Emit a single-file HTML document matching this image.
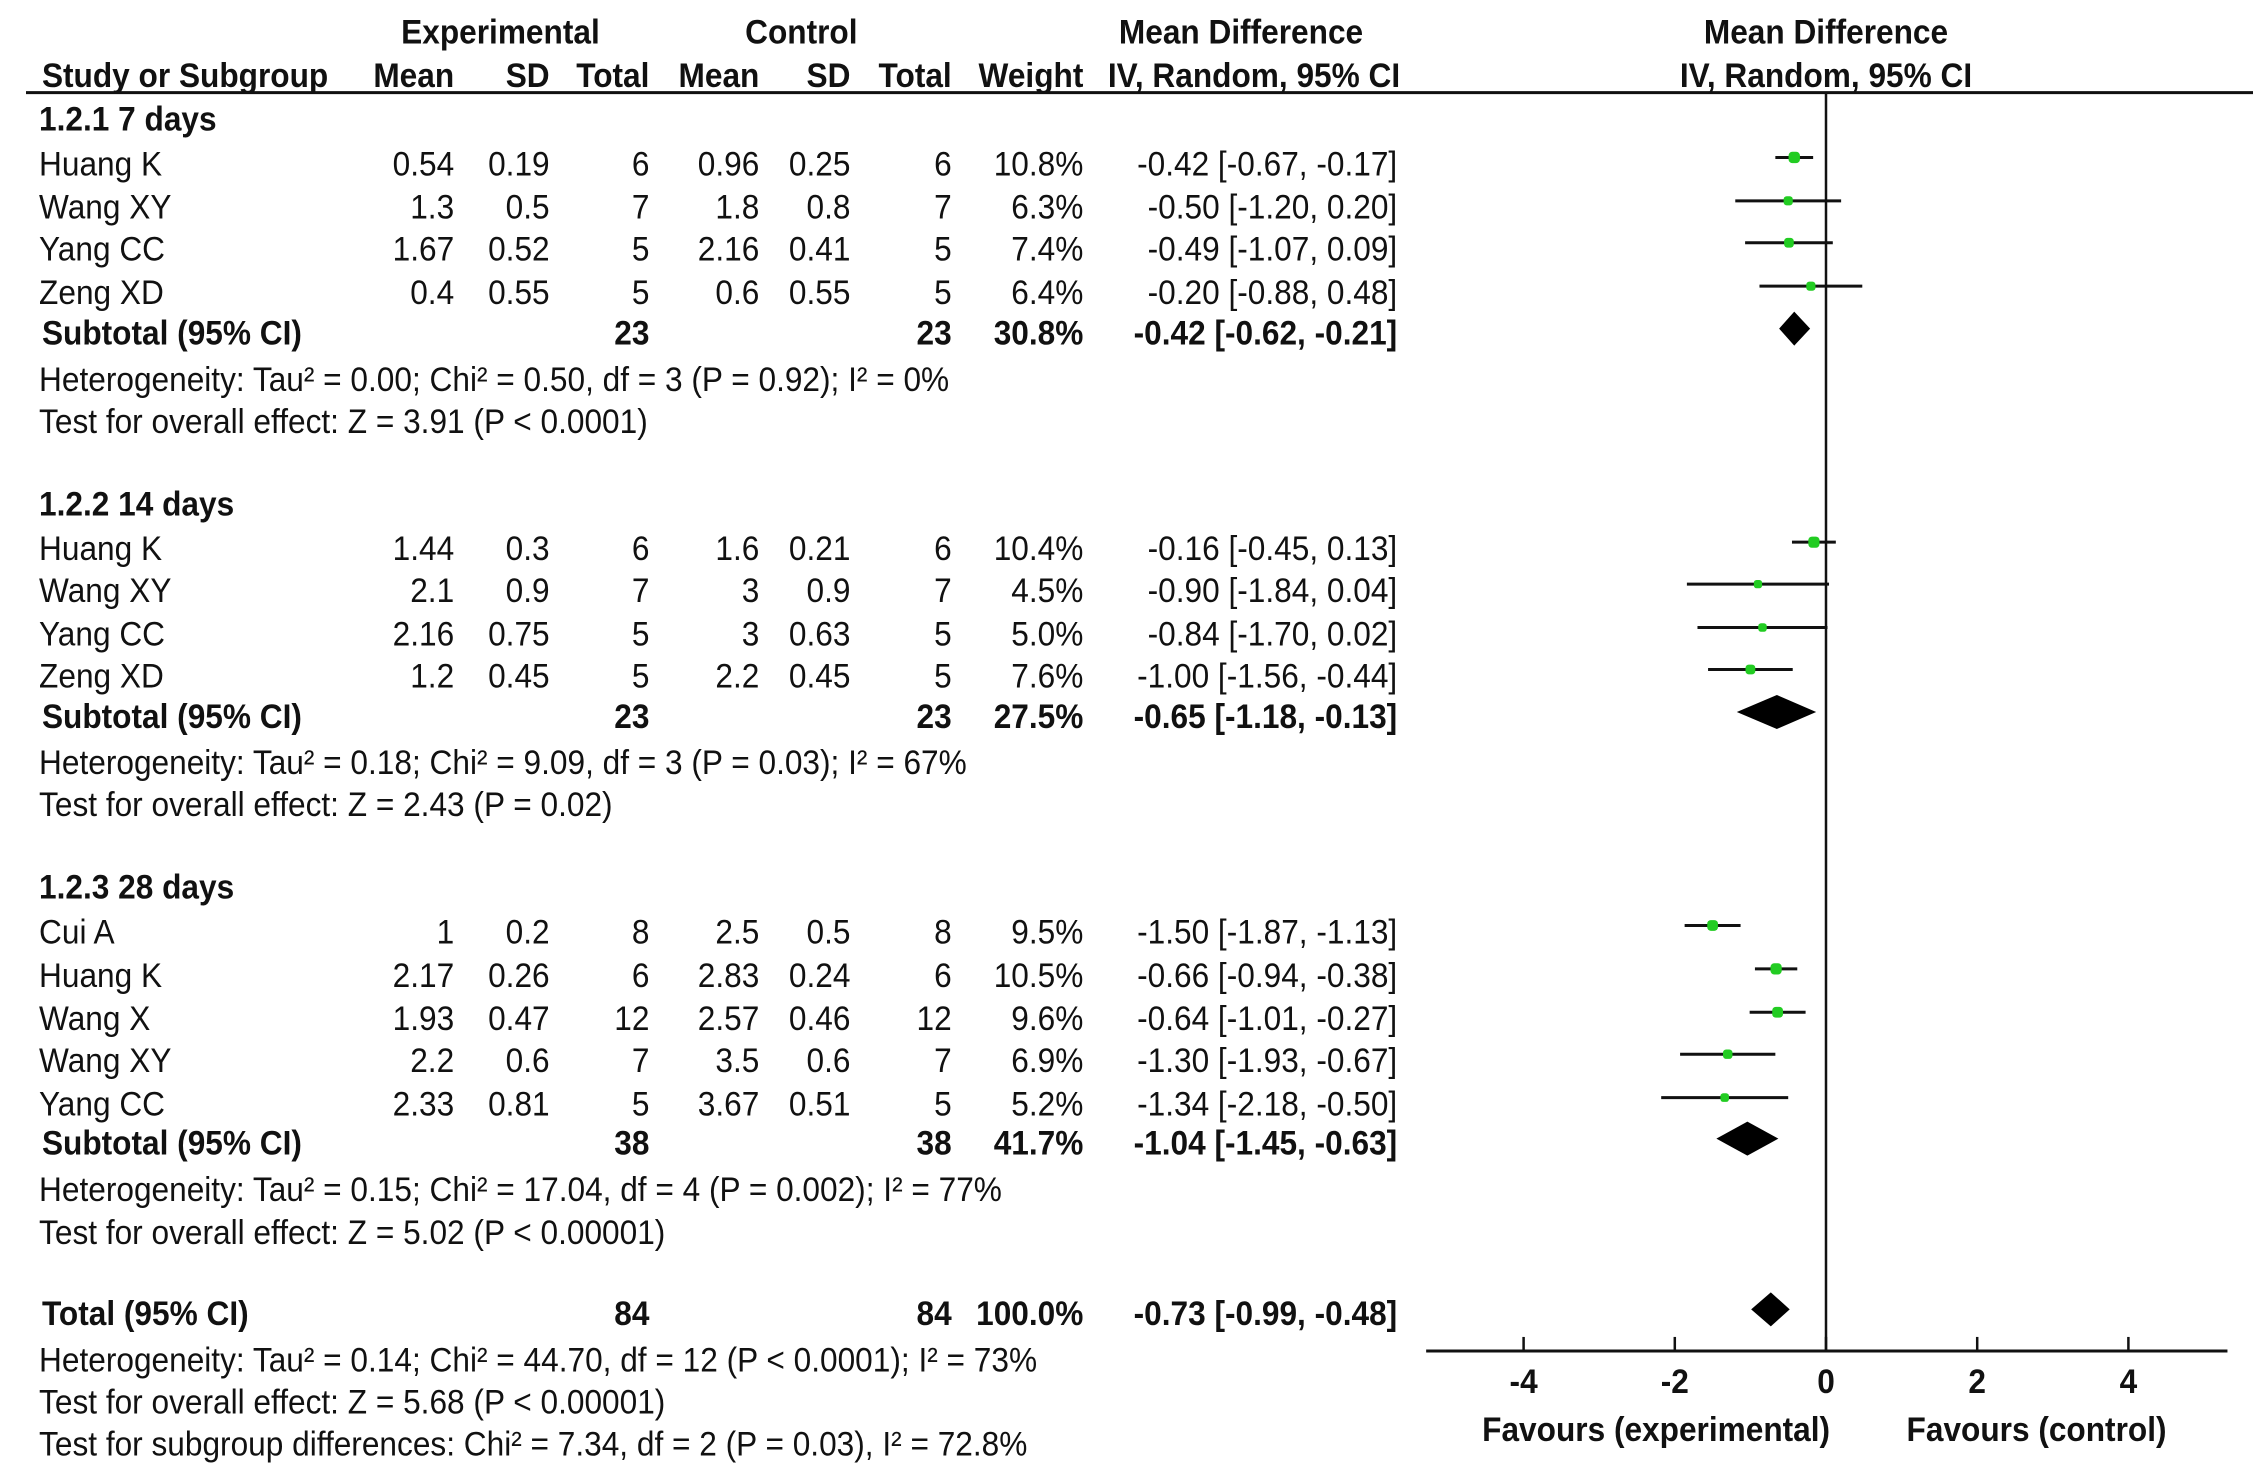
<!DOCTYPE html>
<html><head><meta charset="utf-8"><style>
html,body{margin:0;padding:0;background:#fff;}
svg{display:block;}
text{font-family:"Liberation Sans",Arial,sans-serif;font-size:34px;fill:#111;}
.b{font-weight:bold;}
</style></head><body>
<svg id="c" width="2268" height="1477" viewBox="0 0 2268 1477"></svg>
<script>
const S=1.4464;
const studies=["Huang K","Wang XY","Yang CC","Zeng XD","Huang K","Wang XY","Yang CC","Zeng XD","Cui A","Huang K","Wang X","Wang XY","Yang CC"];
const studyY=[113,143,172,202,379,408,438,467,644,674,704,733,763];
const expMean=["0.54","1.3","1.67","0.4","1.44","2.1","2.16","1.2","1","2.17","1.93","2.2","2.33"];
const expSD=["0.19","0.5","0.52","0.55","0.3","0.9","0.75","0.45","0.2","0.26","0.47","0.6","0.81"];
const expN=["6","7","5","5","6","7","5","5","8","6","12","7","5"];
const ctlMean=["0.96","1.8","2.16","0.6","1.6","3","3","2.2","2.5","2.83","2.57","3.5","3.67"];
const ctlSD=["0.25","0.8","0.41","0.55","0.21","0.9","0.63","0.45","0.5","0.24","0.46","0.6","0.51"];
const ctlN=["6","7","5","5","6","7","5","5","8","6","12","7","5"];
const weights=["10.8%","6.3%","7.4%","6.4%","10.4%","4.5%","5.0%","7.6%","9.5%","10.5%","9.6%","6.9%","5.2%"];
const md=[-0.42,-0.50,-0.49,-0.20,-0.16,-0.90,-0.84,-1.00,-1.50,-0.66,-0.64,-1.30,-1.34];
const lo=[-0.67,-1.20,-1.07,-0.88,-0.45,-1.84,-1.70,-1.56,-1.87,-0.94,-1.01,-1.93,-2.18];
const hi=[-0.17,0.20,0.09,0.48,0.13,0.04,0.02,-0.44,-1.13,-0.38,-0.27,-0.67,-0.50];
const subLabels=["Subtotal (95% CI)","Subtotal (95% CI)","Subtotal (95% CI)","Total (95% CI)"];
const subY=[230,495,790,908];
const subN=["23","23","38","84"];
const subW=["30.8%","27.5%","41.7%","100.0%"];
const subMd=[-0.42,-0.65,-1.04,-0.73];
const subLo=[-0.62,-1.18,-1.45,-0.99];
const subHi=[-0.21,-0.13,-0.63,-0.48];
const ticks=[-4,-2,0,2,4];
const groupHeads=[["1.2.1 7 days",82],["1.2.2 14 days",348],["1.2.3 28 days",613]];
const notes=[
["Heterogeneity: Tau\u00b2 = 0.00; Chi\u00b2 = 0.50, df = 3 (P = 0.92); I\u00b2 = 0%",262],
["Test for overall effect: Z = 3.91 (P < 0.0001)",291],
["Heterogeneity: Tau\u00b2 = 0.18; Chi\u00b2 = 9.09, df = 3 (P = 0.03); I\u00b2 = 67%",527],
["Test for overall effect: Z = 2.43 (P = 0.02)",556],
["Heterogeneity: Tau\u00b2 = 0.15; Chi\u00b2 = 17.04, df = 4 (P = 0.002); I\u00b2 = 77%",822],
["Test for overall effect: Z = 5.02 (P < 0.00001)",852],
["Heterogeneity: Tau\u00b2 = 0.14; Chi\u00b2 = 44.70, df = 12 (P < 0.0001); I\u00b2 = 73%",940],
["Test for overall effect: Z = 5.68 (P < 0.00001)",969],
["Test for subgroup differences: Chi\u00b2 = 7.34, df = 2 (P = 0.03), I\u00b2 = 72.8%",998]];
const svg=document.getElementById('c');
const NS="http://www.w3.org/2000/svg";
const X0=1826, UNIT=75.6;
function xs(v){return X0+v*UNIT;}
function ys(d){return d*S;}
const SX=0.93;
function txt(s,x,y,anchor,bold,name){
  const t=document.createElementNS(NS,'text');
  t.setAttribute('x',x/SX);t.setAttribute('y',y);
  t.setAttribute('transform','scale('+SX+',1)');
  t.setAttribute('dominant-baseline','central');
  t.setAttribute('text-anchor',anchor||'start');
  if(bold)t.setAttribute('class','b');
  t.textContent=s;
  
  
  svg.appendChild(t);return t;
}
function ln(x1,y1,x2,y2,w,name){
  const l=document.createElementNS(NS,'line');
  l.setAttribute('x1',x1);l.setAttribute('y1',y1);l.setAttribute('x2',x2);l.setAttribute('y2',y2);
  l.setAttribute('stroke','#111');l.setAttribute('stroke-width',w);
  
  
  svg.appendChild(l);return l;
}
txt("Experimental",ys(346),ys(22),'middle',true,'header-experimental');
txt("Control",ys(554),ys(22),'middle',true,'header-control');
txt("Mean Difference",ys(858),ys(22),'middle',true,'header-mean-difference');
txt("Mean Difference",X0,ys(22),'middle',true,'header-plot-mean-difference');
const hy=ys(52);
txt("Study or Subgroup",ys(29),hy,'start',true,'header-study');
txt("Mean",ys(314),hy,'end',true,'header-exp-mean');
txt("SD",ys(380),hy,'end',true,'header-exp-sd');
txt("Total",ys(449),hy,'end',true,'header-exp-total');
txt("Mean",ys(525),hy,'end',true,'header-ctl-mean');
txt("SD",ys(588),hy,'end',true,'header-ctl-sd');
txt("Total",ys(658),hy,'end',true,'header-ctl-total');
txt("Weight",ys(749),hy,'end',true,'header-weight');
txt("IV, Random, 95% CI",ys(867),hy,'middle',true,'header-ci');
txt("IV, Random, 95% CI",X0,hy,'middle',true,'header-plot-ci');
ln(26,ys(64),2253,ys(64),3,'header-rule');
groupHeads.forEach(g=>txt(g[0],ys(27),ys(g[1]),'start',true,'subgroup-heading'));
notes.forEach(n=>txt(n[0],ys(27),ys(n[1]),'start',false,'stats-note'));
function fmt(v){return v.toFixed(2);}
const axY=ys(934);
ln(X0,ys(64),X0,axY,2.5,'null-line');
ln(ys(986),axY,ys(1540),axY,3,'x-axis');
ticks.forEach(t=>{
  ln(xs(t),axY-14,xs(t),axY,2.5,'x-tick');
  txt(String(t),xs(t),ys(955),'middle',true,'x-tick-label');
});
txt("Favours (experimental)",ys(1145),ys(988),'middle',true,'favours-experimental-label');
txt("Favours (control)",ys(1408),ys(988),'middle',true,'favours-control-label');
studies.forEach((s,i)=>{
  const y=ys(studyY[i]);
  txt(s,ys(27),y,'start',false,'study-name');
  txt(expMean[i],ys(314),y,'end',false,'exp-mean');
  txt(expSD[i],ys(380),y,'end',false,'exp-sd');
  txt(expN[i],ys(449),y,'end',false,'exp-total');
  txt(ctlMean[i],ys(525),y,'end',false,'ctl-mean');
  txt(ctlSD[i],ys(588),y,'end',false,'ctl-sd');
  txt(ctlN[i],ys(658),y,'end',false,'ctl-total');
  txt(weights[i],ys(749),y,'end',false,'weight');
  txt(fmt(md[i])+" ["+fmt(lo[i])+", "+fmt(hi[i])+"]",ys(966),y,'end',false,'effect-ci');
  const my=y-6;
  ln(xs(lo[i]),my,xs(hi[i]),my,3,'ci-line');
  const r=document.createElementNS(NS,'rect');
  const sz=6+parseFloat(weights[i])*0.5;
  r.setAttribute('x',xs(md[i])-sz/2);r.setAttribute('y',my-sz/2);
  r.setAttribute('width',sz);r.setAttribute('height',sz);r.setAttribute('rx',sz/3);
  r.setAttribute('fill','#22cc22');
  
  
  svg.appendChild(r);
});
subLabels.forEach((s,i)=>{
  const y=ys(subY[i]);
  txt(s,ys(29),y,'start',true,'subtotal-label');
  txt(subN[i],ys(449),y,'end',true,'subtotal-exp-total');
  txt(subN[i],ys(658),y,'end',true,'subtotal-ctl-total');
  txt(subW[i],ys(749),y,'end',true,'subtotal-weight');
  txt(fmt(subMd[i])+" ["+fmt(subLo[i])+", "+fmt(subHi[i])+"]",ys(966),y,'end',true,'subtotal-ci');
  const cy=y-4,h=17;
  const p=document.createElementNS(NS,'polygon');
  p.setAttribute('points',[xs(subLo[i])+','+cy,xs(subMd[i])+','+(cy-h),xs(subHi[i])+','+cy,xs(subMd[i])+','+(cy+h)].join(' '));
  p.setAttribute('fill','#000');
  
  
  svg.appendChild(p);
});
</script>
</body></html>
